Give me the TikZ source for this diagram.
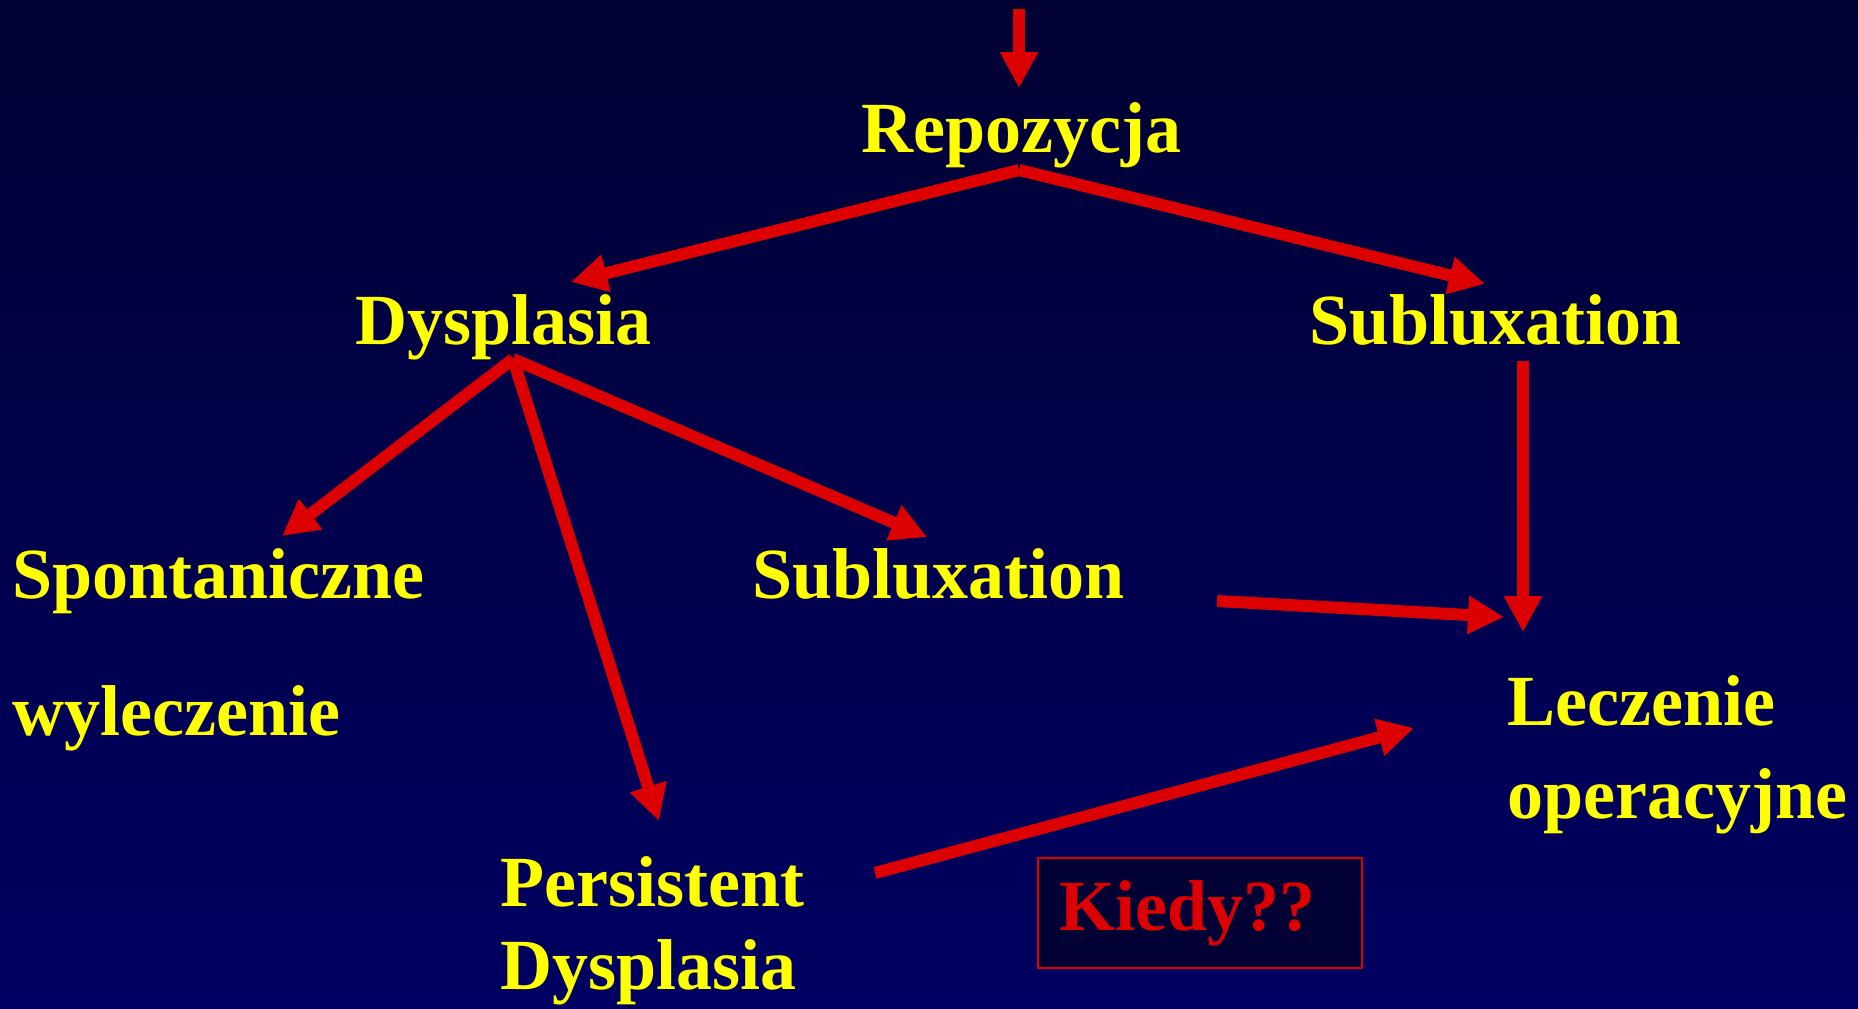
\documentclass[tikz,border=0pt]{standalone}
\usepackage{fontspec}
\setmainfont{Liberation Serif}
\usetikzlibrary{arrows.meta}
\definecolor{bgtop}{RGB}{0,0,51}
\definecolor{bgbot}{RGB}{0,0,98}
\definecolor{arrowred}{RGB}{221,0,0}
\definecolor{txtyellow}{RGB}{255,255,0}
\definecolor{kiedybg}{RGB}{0,0,52}
\newcommand{\lblfont}[1]{\bfseries\fontsize{72}{#1}\selectfont}
\begin{document}
\begin{tikzpicture}[x=1pt,y=-1pt,
  lbl/.style={text=txtyellow,font=\lblfont{86},inner sep=0pt,
    anchor=base west,align=left},
  kbox/.style={draw=arrowred,line width=2pt,fill=kiedybg,text=arrowred,
    font=\lblfont{86},anchor=north west,minimum width=324pt,
    minimum height=110pt,text width=282pt,inner xsep=21pt,inner ysep=0pt,
    align=left},
  ar/.style={draw=arrowred,line width=12pt,
    -{Triangle[length=36pt,width=36pt]}}]
\useasboundingbox (0,0) rectangle (1858,1009);
\shade[top color=bgtop,bottom color=bgbot] (0,0) rectangle (1858,1009);
% labels (multi-line ones sit on their last baseline)
\node[lbl] (repo) at (861,152) {Repozycja};
\node[lbl] (dys) at (355,344) {Dysplasia};
\node[lbl] (sub1) at (1309,344) {Subluxation};
\node[lbl,font=\lblfont{137}] (spont) at (12,735) {Spontaniczne\\wyleczenie};
\node[lbl] (sub2) at (752,598) {Subluxation};
\node[lbl,font=\lblfont{93}] (opr) at (1507,818) {Leczenie\\operacyjne};
\node[lbl,font=\lblfont{83}] (pers) at (500,989) {Persistent\\Dysplasia};
\node[kbox] (kiedy) at (1037,857) {Kiedy??};
% arrow ends
\coordinate (top) at (1019,9);
\coordinate (repo-in) at (1019,88);
\coordinate (repo-out) at (1019,170);
\coordinate (dys-in) at (571,282);
\coordinate (sub1-in) at (1485,284);
\coordinate (dys-out) at (513,359);
\coordinate (spont-in) at (282,536);
\coordinate (pers-in) at (659,821);
\coordinate (sub2-in) at (927,537);
\coordinate (sub1-out) at (1523,361);
\coordinate (sub2-out) at (1217,601);
\coordinate (pers-out) at (875,873);
\coordinate (opr-a) at (1523,632);
\coordinate (opr-b) at (1504,617);
\coordinate (opr-c) at (1414,728);
% arrows
\draw[ar] (top)--(repo-in);
\draw[ar] (repo-out)--(dys-in);
\draw[ar] (repo-out)--(sub1-in);
\draw[ar] (dys-out)--(spont-in);
\draw[ar] (dys-out)--(pers-in);
\draw[ar] (dys-out)--(sub2-in);
\draw[ar] (sub1-out)--(opr-a);
\draw[ar] (sub2-out)--(opr-b);
\draw[ar] (pers-out)--(opr-c);
\end{tikzpicture}
\end{document}
